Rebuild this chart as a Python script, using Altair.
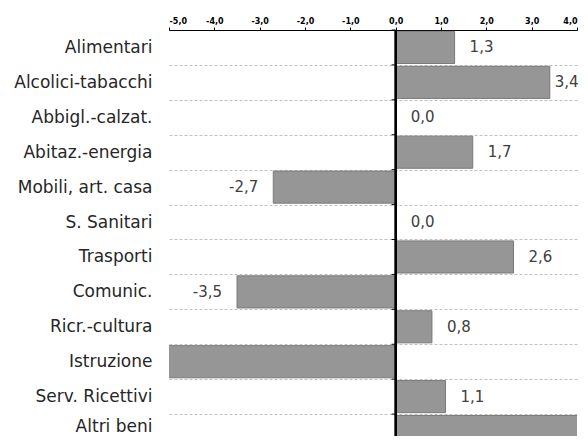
import altair as alt
import pandas as pd

categories = ["Alimentari", "Alcolici-tabacchi", "Abbigl.-calzat.", "Abitaz.-energia",
              "Mobili, art. casa", "S. Sanitari", "Trasporti", "Comunic.",
              "Ricr.-cultura", "Istruzione", "Serv. Ricettivi", "Altri beni"]
values = [1.3, 3.4, 0.0, 1.7, -2.7, 0.0, 2.6, -3.5, 0.8, -7.0, 1.1, 5.0]
x_ticks = [-5, -4, -3, -2, -1, 0, 1, 2, 3, 4]

df = pd.DataFrame({"cat": categories, "val": values})
df["label"] = [f"{v:.1f}".replace(".", ",") for v in values]

x_scale = alt.Scale(domain=[-5, 4], nice=False)
y_scale = alt.Scale(domain=categories, paddingInner=0, paddingOuter=0, range=[0, 419])

y_axis = alt.Axis(title=None, domain=False, ticks=False, labelPadding=17,
                  labelFontSize=17, labelFont="DejaVu Sans", labelColor="#262626",
                  labelOffset={"condition": {"test": "datum.value === 'Altri beni'", "value": -5},
                               "value": 0},
                  grid=True, gridDash=[3, 2], gridColor="#c0c0c0", gridWidth=1,
                  tickBand="extent", labelLimit=300)
x_axis = alt.Axis(title=None, orient="top", values=x_ticks,
                  labelExpr="replace(replace(format(datum.value, '.1f'), '.', ','), '\u2212', '-')",
                  labelFontSize=8, labelFontWeight="bold", labelFont="DejaVu Sans",
                  labelColor="#000000",
                  domainColor="#000000", tickColor="#000000", tickSize=3,
                  labelPadding=2, grid=False)

base = alt.Chart(df)

bars = base.mark_bar(height={"band": 0.92}, color="#969696", stroke="#7a7a7a",
                     strokeWidth=1, clip=True).encode(
    x=alt.X("val:Q", scale=x_scale, axis=x_axis),
    y=alt.Y("cat:N", scale=y_scale, axis=y_axis, sort=categories),
)

zero = base.mark_rule(color="black", strokeWidth=1.5).encode(x=alt.datum(0))

ticks = base.mark_rule(color="black", strokeWidth=1).encode(
    x=alt.datum(0), x2=alt.datum(-0.09),
    y=alt.Y("cat:N", bandPosition=0, sort=categories),
)

label_style = dict(baseline="middle", fontSize=15, font="DejaVu Sans", color="#404040")
label_enc = dict(x="val:Q", y=alt.Y("cat:N", sort=categories), text="label:N")

pos = base.transform_filter("datum.val >= 0 && datum.val <= 3").mark_text(
    align="left", dx=15, **label_style).encode(**label_enc)

pos_edge = base.transform_filter("datum.val > 3 && datum.val <= 4").mark_text(
    align="left", dx=5, **label_style).encode(**label_enc)

neg = base.transform_filter("datum.val < 0 && datum.val >= -5").mark_text(
    align="right", dx=-15, **label_style).encode(**label_enc)

chart = alt.layer(bars, zero, ticks, pos, pos_edge, neg).properties(
    width=408, height=406,
    autosize=alt.AutoSizeParams(type="none"),
    padding={"left": 161, "top": 22, "right": 3, "bottom": 0},
).configure_view(stroke=None)

chart.save("out.html", embed_options={"renderer": "svg", "actions": False})
